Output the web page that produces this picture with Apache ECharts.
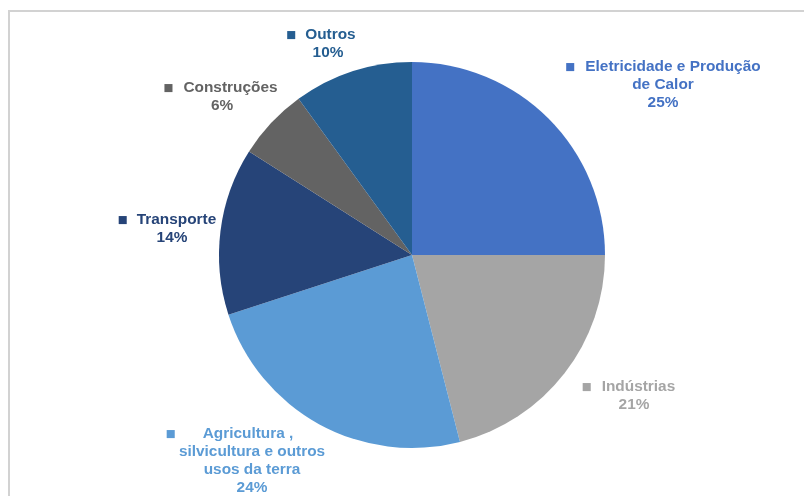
<!DOCTYPE html>
<html>
<head>
<meta charset="utf-8">
<script src="https://cdn.jsdelivr.net/npm/echarts@6/dist/echarts.min.js"></script>
<style>
  html, body { margin: 0; padding: 0; background: #ffffff; }
  #chart { position: absolute; left: 0; top: 0; width: 804px; height: 496px; }
  #frame { position: absolute; left: 8px; top: 10px; right: 0; bottom: 0;
           border-top: 2px solid #d2d2d2; border-left: 2px solid #d2d2d2; pointer-events: none; }
</style>
</head>
<body>
<div id="chart"></div>
<div id="frame"></div>
<script>
// Emissions share by sector
const categories = [
  'Eletricidade e Produção de Calor',
  'Indústrias',
  'Agricultura , silvicultura e outros usos da terra',
  'Transporte',
  'Construções',
  'Outros'
];
// Label lines for each category (how the names wrap)
const labelLines = [
  ['Eletricidade e Produção', 'de Calor'],
  ['Indústrias'],
  ['Agricultura ,', 'silvicultura e outros', 'usos da terra'],
  ['Transporte'],
  ['Construções'],
  ['Outros']
];
const values = [25, 21, 24, 14, 6, 10];
const colors = ['#4472C4', '#A5A5A5', '#5B9BD5', '#264478', '#636363', '#255E91'];

// Label anchors: centre x, top y of each text block
const labelAnchors = [
  [663, 58], [634, 378], [252, 425], [172, 211], [222, 79], [328, 26]
];
// space between the colour square and the name
const markerGaps = [10, 10, 27, 9, 10, 9];
// extra room after the first line, shifting it left of the block centre
const firstLineTail = [0, 11, 45, 10, 3, 14];

const chart = echarts.init(document.getElementById('chart'), null, { renderer: 'canvas' });

const rich = {};
colors.forEach((c, i) => {
  rich['m' + i] = { color: c, fontSize: 10.5, fontFamily: 'DejaVu Sans', padding: [0, markerGaps[i], 0, 0], lineHeight: 18 };
  rich['f' + i] = { color: c, fontSize: 15.4, fontWeight: 'bold', fontFamily: 'Liberation Sans', lineHeight: 18, padding: [0, firstLineTail[i], 0, 0] };
  rich['t' + i] = { color: c, fontSize: 15.4, fontWeight: 'bold', fontFamily: 'Liberation Sans', lineHeight: 18 };
});

const data = categories.map((name, i) => ({
  name: name,
  value: values[i],
  itemStyle: { color: colors[i] }
}));

chart.setOption({
  animation: false,
  backgroundColor: '#ffffff',
  series: [{
    type: 'pie',
    center: [412, 255],
    radius: 193,
    startAngle: 90,
    clockwise: true,
    avoidLabelOverlap: false,
    data: data,
    labelLine: { show: false },
    label: {
      show: true,
      position: 'outside',
      align: 'center',
      formatter: function (p) {
        const i = p.dataIndex;
        const lines = labelLines[i];
        const pct = Math.round(p.percent) + '%';
        let s = '{m' + i + '|■}{f' + i + '|' + lines[0] + '}';
        for (let k = 1; k < lines.length; k++) s += '\n{t' + i + '|' + lines[k] + '}';
        s += '\n{t' + i + '|' + pct + '}';
        return s;
      },
      rich: rich
    },
    labelLayout: function (p) {
      const a = labelAnchors[p.dataIndex];
      return { x: a[0], y: a[1], align: 'center', verticalAlign: 'top' };
    },
    emphasis: { disabled: true }
  }]
});
</script>
</body>
</html>
